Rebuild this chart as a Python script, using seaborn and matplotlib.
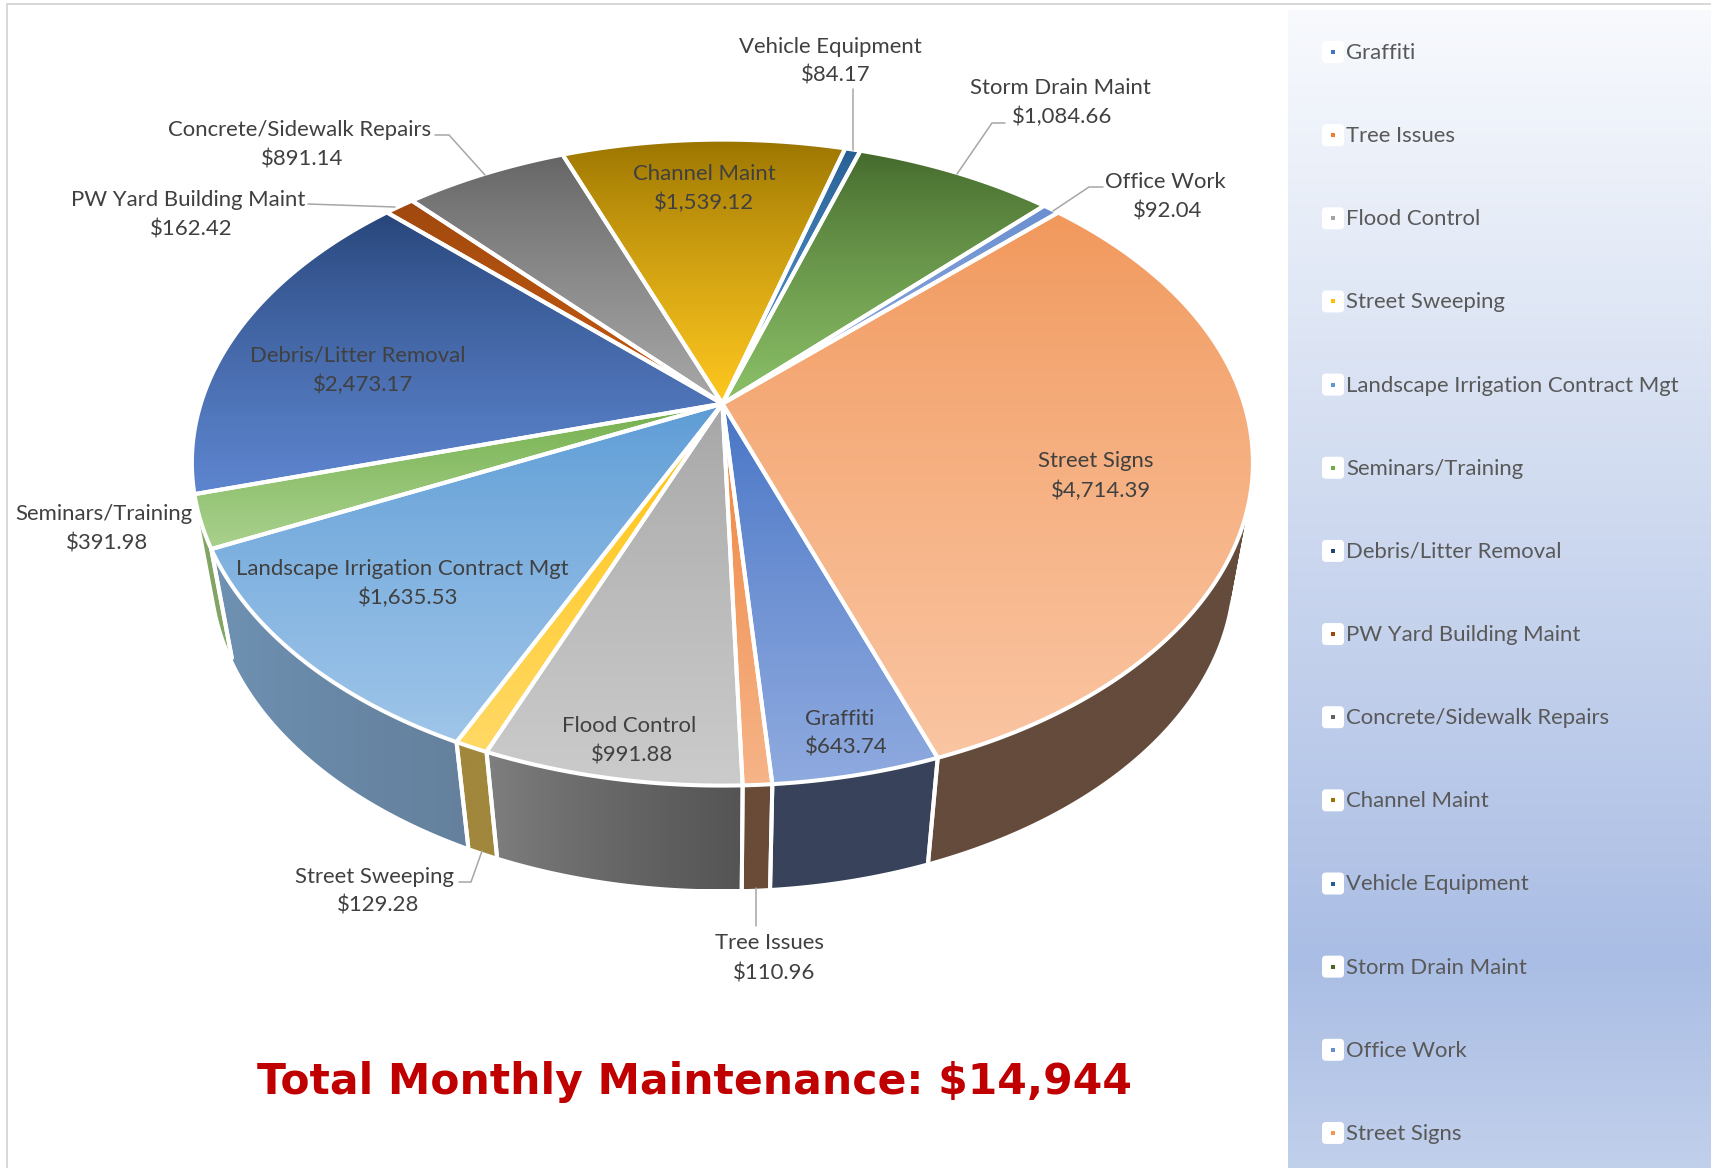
import numpy as np
import matplotlib
matplotlib.use('Agg')
import matplotlib.pyplot as plt
from matplotlib.path import Path
from matplotlib.patches import PathPatch, FancyBboxPatch, Rectangle
import seaborn as sns

categories = ['Graffiti', 'Tree Issues', 'Flood Control', 'Street Sweeping',
              'Landscape Irrigation Contract Mgt', 'Seminars/Training',
              'Debris/Litter Removal', 'PW Yard Building Maint',
              'Concrete/Sidewalk Repairs', 'Channel Maint', 'Vehicle Equipment',
              'Storm Drain Maint', 'Office Work', 'Street Signs']
values = [643.74, 110.96, 991.88, 129.28, 1635.53, 391.98, 2473.17, 162.42,
          891.14, 1539.12, 84.17, 1084.66, 92.04, 4714.39]
title = 'Total Monthly Maintenance: $14,944'

# gradient on the top of each slice (upper colour, lower colour)
top_colors = [('#4472C4', '#8FAADF'), ('#ED7D31', '#F6B488'), ('#A5A5A5', '#CBCBCB'),
              ('#FFC000', '#FFD966'), ('#5B9BD5', '#9FC5E9'), ('#70AD47', '#A9D18E'),
              ('#264478', '#5E86D0'), ('#9E480E', '#C55A11'), ('#636363', '#A8A8A8'),
              ('#997300', '#FFC820'), ('#255E91', '#5B9BD5'), ('#43682B', '#8CC168'),
              ('#698ED0', '#8FAADC'), ('#F1975A', '#FAC5A2')]
# side of each slice (left colour, right colour)
side_colors = [('#38425A', '#38425A'), ('#694B37', '#694B37'), ('#808080', '#545454'),
               ('#A0873C', '#A0873C'), ('#6F92B4', '#64809C'), ('#82A564', '#82A564'),
               ('#264478', '#264478'), ('#9E480E', '#9E480E'), ('#636363', '#636363'),
               ('#997300', '#997300'), ('#255E91', '#255E91'), ('#43682B', '#43682B'),
               ('#698ED0', '#698ED0'), ('#644B3C', '#644B3C')]
legend_marks = ['#4472C4', '#ED7D31', '#A5A5A5', '#FFC000', '#5B9BD5', '#70AD47', '#264478',
                '#9E480E', '#636363', '#997300', '#255E91', '#43682B', '#698ED0', '#F1975A']

# centre of the name line / value line of each label, in pixels
name_pos = [(840, 719), (770, 943), (629, 726), (374, 877), (402, 569), (104, 514), (358, 356),
            (188, 200), (300, 130), (704, 174), (830, 47), (1060, 88), (1165, 182), (1096, 461)]
value_pos = [(846, 748), (774, 973), (632, 755), (378, 906), (408, 598), (107, 543), (363, 385),
             (191, 229), (302, 159), (704, 203), (836, 76), (1062, 117), (1168, 211), (1101, 491)]
leaders = [[(853, 89), (853, 150)],
           [(1005, 123), (992, 123), (957, 174)],
           [(1103, 187), (1089, 187), (1053, 211)],
           [(435, 135), (449, 135), (485, 175)],
           [(308, 204), (395, 207)],
           [(756, 888), (756, 926)],
           [(459, 882), (471, 882), (482, 851)]]

sns.set_theme(style='white')
plt.rcParams['font.family'] = ['Lato', 'DejaVu Sans']

fig = plt.figure(figsize=(17.11, 11.68), dpi=100)
ax = fig.add_axes([0, 0, 1, 1])
ax.set_xlim(0, 1711)
ax.set_ylim(1168, 0)
ax.axis('off')

# perspective of the disc: upper face, lower face
CX, Y0, A, B, K = 722.4, 403.7, 521.6, -238.6, 0.1824
LOW_Y0, LOW_B, LOW_W = 534.4, -227.1, 1.0386
START = 160.0
# the rim only shows between these angles (clockwise from the back)
RIM_FROM, RIM_TO = 97.0, 254.0
BORDER = 2.9


def project(deg, r=1.0, lower=False):
    t = np.radians(deg)
    x, y = r * np.sin(t), r * np.cos(t)
    if lower:
        w = LOW_W + K * y
        return CX + A * x / w, (LOW_Y0 + LOW_B * y) / w
    w = 1 + K * y
    return CX + A * x / w, (Y0 + B * y) / w


def gradient_image(path, verts, c1, c2, horizontal, z):
    ramp = np.array(sns.blend_palette([c1, c2], n_colors=256))
    ramp = ramp[(np.linspace(0, 1, 256) ** 0.8 * 255).astype(int)]
    img = ramp[None, :, :] if horizontal else ramp[:, None, :]
    x0, y0 = verts.min(axis=0)
    x1, y1 = verts.max(axis=0)
    im = ax.imshow(img, extent=(x0, x1, y1, y0), aspect='auto', zorder=z, interpolation='bilinear')
    im.set_clip_path(PathPatch(path, transform=ax.transData))


def draw_rim(a0, a1, c1, c2):
    arc = np.linspace(a0, a1, max(int((a1 - a0) * 2), 4))
    up = np.array([project(a) for a in arc])
    low = np.array([project(a, lower=True) for a in arc])
    # many small quads so the straight outline of the cylinder is filled too
    codes, verts = [], []
    for j in range(len(arc) - 1):
        quad = np.array([up[j], up[j + 1], low[j + 1], low[j]])
        xs, ys = quad[:, 0], quad[:, 1]
        if np.sum(xs * np.roll(ys, -1) - np.roll(xs, -1) * ys) < 0:
            quad = quad[::-1]
        verts.extend(list(quad) + [quad[0]])
        codes.extend([Path.MOVETO, Path.LINETO, Path.LINETO, Path.LINETO, Path.CLOSEPOLY])
    gradient_image(Path(np.array(verts), codes), np.vstack([up, low]), c1, c2, True, 2)
    for k in (0, -1):
        if (arc[k] - 360 if arc[k] > 360 else arc[k]) not in (RIM_FROM, RIM_TO):
            ax.plot([up[k, 0], low[k, 0]], [up[k, 1], low[k, 1]], color='white', lw=BORDER,
                    zorder=2.1, solid_capstyle='round')


# legend panel
stops_y = [10, 960, 1168]
stops_rgb = np.array([[248, 250, 253], [170, 189, 228], [193, 208, 235]]) / 255
rows = np.arange(10, 1168)
panel = np.stack([np.interp(rows, stops_y, stops_rgb[:, i]) for i in range(3)], axis=1)[:, None, :]
ax.imshow(panel, extent=(1288, 1711, 1168, 10), aspect='auto', zorder=1)
ax.set_xlim(0, 1711)
ax.set_ylim(1168, 0)

# frame of the sheet
ax.add_patch(Rectangle((6, 3), 2, 1165, fc='#D9D9D9', ec='none', zorder=1))
ax.add_patch(Rectangle((6, 3), 1705, 1.5, fc='#D9D9D9', ec='none', zorder=1))

# slices
shares = np.array(values) / sum(values) * 360
edges = START + np.concatenate([[0], np.cumsum(shares)])
for i in range(len(values)):
    for turn in (0, 360):
        a0 = max(edges[i], RIM_FROM + turn)
        a1 = min(edges[i + 1], RIM_TO + turn)
        if a1 > a0:
            draw_rim(a0, a1, side_colors[i][0], side_colors[i][1])

for i in range(len(values)):
    arc = np.linspace(edges[i], edges[i + 1], max(int(shares[i] * 2), 4))
    top = np.vstack([[project(0, 0)], [project(a) for a in arc]])
    path = Path(np.vstack([top, top[0]]), closed=True)
    gradient_image(path, top, top_colors[i][0], top_colors[i][1], False, 3)
    ax.add_patch(PathPatch(path, fc='none', ec='white', lw=BORDER, joinstyle='round', zorder=3.1))

# labels
for pts in leaders:
    ax.plot(*zip(*pts), color='#A6A6A6', lw=1.1, zorder=4)
for i, name in enumerate(categories):
    ax.text(*name_pos[i], name, ha='center', va='center', fontsize=15.9, color='#404040', zorder=5)
    ax.text(*value_pos[i], f'${values[i]:,.2f}', ha='center', va='center', fontsize=15.9,
            color='#404040', zorder=5)

# legend
for i, name in enumerate(categories):
    y = 52 + i * 83.15
    ax.add_patch(FancyBboxPatch((1325, y - 8), 16, 16, boxstyle='round,pad=3,rounding_size=4',
                                fc='white', ec='none', zorder=4))
    ax.add_patch(Rectangle((1331, y - 2), 4, 4, fc=legend_marks[i], ec='none', zorder=5))
    ax.text(1346, y + 1, name, ha='left', va='center', fontsize=15.9, color='#595959', zorder=5)

ax.text(694.5, 1082, title, ha='center', va='center', fontsize=30.65, fontweight='bold',
        family='DejaVu Sans', color='#C00000', zorder=5)

fig.savefig('out.png', dpi=100)
